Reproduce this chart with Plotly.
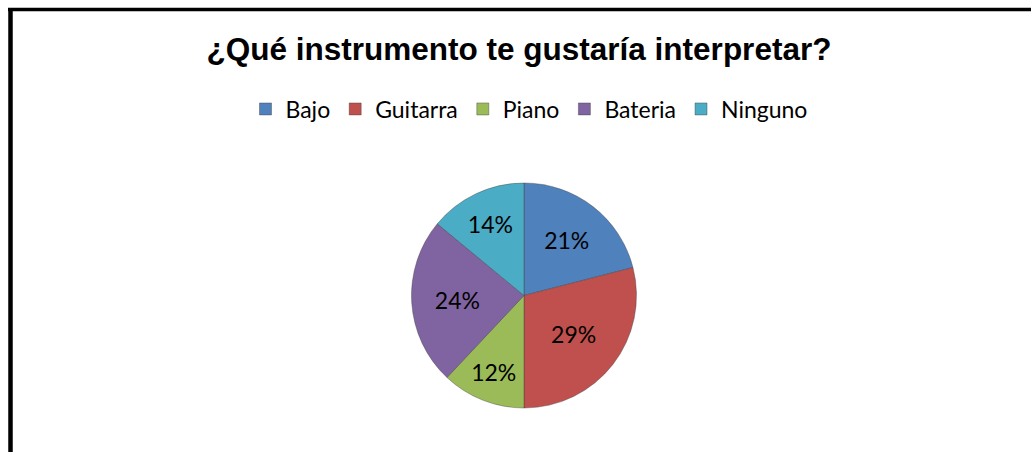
import plotly.graph_objects as go

labels = ["Bajo", "Guitarra", "Piano", "Bateria", "Ninguno"]
values = [21, 29, 12, 24, 14]
colors = ["#4F81BD", "#C0504D", "#9BBB59", "#8064A2", "#4BACC6"]
title = "¿Qué instrumento te gustaría interpretar?"

W, H = 1031, 452

fig = go.Figure(go.Pie(
    labels=labels,
    values=values,
    sort=False,
    direction="clockwise",
    rotation=0,
    marker=dict(colors=colors, line=dict(color="rgba(60,60,60,0.5)", width=0.8)),
    textinfo="percent",
    texttemplate="%{percent:.0%}",
    textposition="inside",
    insidetextorientation="horizontal",
    textfont=dict(family="Lato, Calibri, sans-serif", size=23, color="black"),
    domain=dict(x=[411 / W, 637 / W], y=[1 - 408 / H, 1 - 183 / H]),
    hoverinfo="label+percent",
))

fig.update_layout(
    width=W, height=H,
    margin=dict(l=0, r=0, t=0, b=0),
    paper_bgcolor="white",
    plot_bgcolor="white",
    title=dict(text="<b>" + title + "</b>", x=519 / W, xanchor="center",
               y=1 - 49 / H, yanchor="middle", yref="paper",
               font=dict(family="Arial, Liberation Sans, sans-serif", size=31.5, color="black")),
    legend=dict(orientation="h", x=529 / W, xanchor="center", y=1 - 109 / H, yanchor="middle",
                font=dict(family="Lato, Calibri, sans-serif", size=23, color="black"),
                itemwidth=30, traceorder="normal"),
    shapes=[
        dict(type="line", xref="paper", yref="paper", x0=8 / W, x1=1, y0=1 - 9.5 / H, y1=1 - 9.5 / H,
             line=dict(color="black", width=3.5)),
        dict(type="line", xref="paper", yref="paper", x0=10.5 / W, x1=10.5 / W, y0=0, y1=1 - 8 / H,
             line=dict(color="black", width=4.5)),
    ],
)

fig.write_html("out.html", config={"displayModeBar": False},
               post_script="document.body.style.margin='0';document.body.style.overflow='hidden';")
